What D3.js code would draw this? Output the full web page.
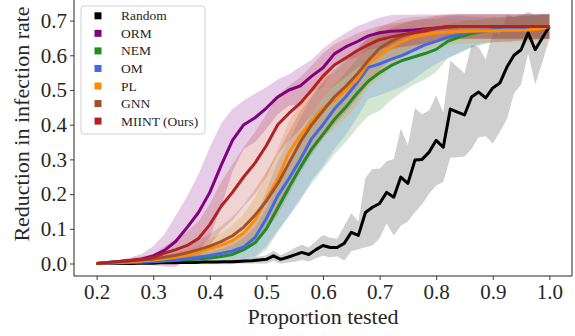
<!DOCTYPE html>
<html>
<head>
<meta charset="utf-8">
<script src="https://cdn.jsdelivr.net/npm/d3@7"></script>
<style>
  body { margin: 0; background: #fff; }
  svg text { font-family: "Liberation Serif", "DejaVu Serif", serif; fill: #262626; }
</style>
</head>
<body>
<svg id="chart"></svg>
<script>
// proportion tested (x grid shared by the learned methods)
const propTested = [0.20, 0.22, 0.24, 0.26, 0.28, 0.30, 0.32, 0.34, 0.36, 0.38,
	0.40, 0.42, 0.44, 0.46, 0.48, 0.50, 0.52, 0.54, 0.56, 0.58,
	0.60, 0.62, 0.64, 0.66, 0.68, 0.70, 0.72, 0.74, 0.76, 0.78,
	0.80, 0.82, 0.84, 0.86, 0.88, 0.90, 0.92, 0.94, 0.96, 0.98, 1.00];

// finer grid for the random baseline
const propRandom = [0.2000, 0.2125, 0.2250, 0.2375, 0.2500, 0.2625, 0.2750, 0.2875, 0.3000, 0.3125,
	0.3250, 0.3375, 0.3500, 0.3625, 0.3750, 0.3875, 0.4000, 0.4125, 0.4250, 0.4375,
	0.4500, 0.4625, 0.4750, 0.4875, 0.5000, 0.5125, 0.5250, 0.5375, 0.5500, 0.5625,
	0.5750, 0.5875, 0.6000, 0.6125, 0.6250, 0.6375, 0.6500, 0.6625, 0.6750, 0.6875,
	0.7000, 0.7125, 0.7250, 0.7375, 0.7500, 0.7625, 0.7750, 0.7875, 0.8000, 0.8125,
	0.8250, 0.8375, 0.8500, 0.8625, 0.8750, 0.8875, 0.9000, 0.9125, 0.9250, 0.9375,
	0.9500, 0.9625, 0.9750, 0.9875, 1.0000];

const randomMean = [0, 0, 0, 0, 0, 0, .001, .001, .001, .002,
	.002, .002, .003, .003, .003, .004, .004, .004, .005, .005,
	.006, .007, .008, .010, .012, .022, .012, .018, .025, .032,
	.026, .040, .052, .046, .046, .058, .090, .081, .147, .162,
	.173, .205, .191, .249, .231, .298, .300, .321, .355, .335,
	.445, .436, .428, .480, .494, .477, .506, .520, .566, .600,
	.616, .665, .616, .650, .683];
const randomSd = [0, 0, 0, 0, 0, 0, .001, .001, .001, .002,
	.002, .002, .003, .003, .003, .004, .004, .004, .005, .005,
	.006, .007, .008, .010, .012, .015, .012, .015, .020, .022,
	.020, .025, .030, .028, .025, .050, .055, .040, .100, .110,
	.100, .090, .110, .140, .110, .150, .130, .120, .130, .100,
	.140, .130, .120, .150, .130, .110, .160, .140, .150, .110,
	.100, .060, .100, .070, .035];

const ormMean = [0, .003, .006, .009, .013, .022, .038, .064, .104, .147,
	.205, .283, .355, .400, .420, .448, .480, .500, .512, .540,
	.564, .604, .624, .639, .656, .665, .669, .671, .673, .676,
	.679, .682, .683, .683, .683, .683, .683, .683, .683, .683, .683];
const ormSd = [0, .002, .004, .008, .015, .028, .047, .075, .090, .110,
	.130, .120, .090, .070, .070, .060, .050, .045, .055, .047,
	.055, .040, .040, .045, .040, .043, .047, .046, .044, .042,
	.038, .036, .035, .035, .035, .035, .035, .035, .035, .035, .035];

const nemMean = [0, .001, .002, .003, .004, .005, .007, .009, .011, .013,
	.016, .020, .026, .040, .060, .100, .160, .220, .277, .330,
	.372, .415, .450, .490, .525, .550, .570, .585, .595, .605,
	.617, .640, .652, .662, .668, .673, .675, .677, .679, .681, .683];
const nemSd = [0, .002, .003, .004, .005, .006, .008, .010, .012, .015,
	.018, .022, .028, .035, .045, .060, .070, .080, .090, .100,
	.100, .100, .100, .100, .100, .110, .100, .090, .080, .075,
	.065, .050, .045, .040, .035, .035, .035, .035, .035, .035, .035];

const omMean = [0, .001, .002, .003, .004, .006, .008, .011, .014, .018,
	.023, .029, .036, .048, .075, .130, .195, .245, .300, .360,
	.400, .445, .480, .520, .565, .575, .588, .600, .615, .630,
	.640, .652, .660, .666, .670, .673, .674, .676, .678, .680, .683];
const omSd = [0, .001, .002, .003, .004, .005, .006, .008, .010, .012,
	.015, .018, .025, .035, .055, .080, .100, .110, .120, .120,
	.120, .115, .110, .100, .090, .090, .090, .090, .085, .075,
	.065, .060, .055, .045, .040, .035, .035, .035, .035, .035, .035];

const plMean = [0, .002, .003, .005, .007, .010, .014, .018, .024, .032,
	.042, .052, .066, .088, .125, .185, .245, .320, .370, .410,
	.448, .470, .500, .530, .578, .600, .624, .640, .653, .659,
	.665, .667, .668, .669, .670, .671, .672, .672, .673, .676, .683];
const plSd = [0, .001, .002, .003, .005, .007, .010, .013, .017, .022,
	.028, .035, .045, .055, .065, .075, .085, .090, .090, .090,
	.085, .080, .080, .075, .070, .065, .060, .050, .045, .042,
	.040, .038, .036, .035, .035, .035, .035, .035, .035, .035, .035];

const gnnMean = [0, .003, .005, .007, .010, .013, .018, .024, .031, .040,
	.050, .063, .080, .105, .140, .180, .230, .290, .350, .400,
	.440, .480, .510, .545, .585, .620, .640, .655, .665, .672,
	.677, .680, .683, .683, .683, .683, .683, .683, .683, .683, .683];
const gnnSd = [0, .002, .003, .005, .007, .010, .013, .017, .022, .028,
	.035, .045, .055, .065, .075, .085, .090, .090, .090, .085,
	.080, .080, .075, .070, .065, .060, .055, .050, .045, .040,
	.038, .036, .035, .035, .035, .035, .035, .035, .035, .035, .035];

const miintMean = [0, .003, .006, .009, .012, .017, .030, .040, .052, .072,
	.112, .165, .205, .250, .290, .340, .400, .433, .462, .500,
	.540, .572, .592, .613, .630, .645, .653, .659, .665, .670,
	.678, .682, .683, .683, .683, .683, .683, .683, .683, .683, .683];
const miintSd = [0, .002, .004, .006, .008, .010, .020, .030, .040, .050,
	.060, .070, .080, .085, .090, .090, .085, .080, .075, .070,
	.065, .060, .055, .050, .045, .040, .037, .036, .036, .035,
	.035, .035, .035, .035, .035, .035, .035, .035, .035, .035, .035];

const seriesNames = ['Random', 'ORM', 'NEM', 'OM', 'PL', 'GNN', 'MIINT (Ours)'];
const seriesColors = ['#000000', '#800080', '#228b22', '#4169e1', '#ff8c00', '#a0522d', '#b22222'];

const xTicks = [0.2, 0.3, 0.4, 0.5, 0.6, 0.7, 0.8, 0.9, 1.0];
const yTicks = [0.0, 0.1, 0.2, 0.3, 0.4, 0.5, 0.6, 0.7];

const series = [
	{ x: propRandom, mean: randomMean, sd: randomSd },
	{ x: propTested, mean: ormMean, sd: ormSd },
	{ x: propTested, mean: nemMean, sd: nemSd },
	{ x: propTested, mean: omMean, sd: omSd },
	{ x: propTested, mean: plMean, sd: plSd },
	{ x: propTested, mean: gnnMean, sd: gnnSd },
	{ x: propTested, mean: miintMean, sd: miintSd }
].map( (s, k) => ({
	name: seriesNames[k],
	color: seriesColors[k],
	points: s.x.map( (x, i) => ({ x: x, m: s.mean[i], sd: s.sd[i] }) )
}) ) ;

const geom = {
	width: 575,
	height: 336,
	margins: { left: 74, right: 3, top: -28, bottom: 60 }
} ;

const scales = {
	x: d3.scaleLinear()
		.domain( [0.16, 1.04] )
		.range( [geom.margins.left, geom.width - geom.margins.right] ),
	y: d3.scaleLinear()
		.domain( [-0.036, 0.84] )
		.range( [geom.height - geom.margins.bottom, geom.margins.top] )
} ;

const svg = d3.select( '#chart' )
	.attr( 'width', geom.width )
	.attr( 'height', geom.height ) ;

const plotBottom = geom.height - geom.margins.bottom ;
const plotRight = geom.width - geom.margins.right ;

// bands first, then the mean lines on top
const area = d3.area()
	.x( d => scales.x(d.x) )
	.y0( d => scales.y(d.m - d.sd) )
	.y1( d => scales.y(d.m + d.sd) ) ;

const line = d3.line()
	.x( d => scales.x(d.x) )
	.y( d => scales.y(d.m) ) ;

svg.append( 'g' )
	.selectAll( 'path' )
	.data( series )
	.enter()
	.append( 'path' )
	.attr( 'd', s => area(s.points) )
	.attr( 'fill', s => s.color )
	.attr( 'fill-opacity', s => s.name == 'Random' ? 0.19 : 0.2 ) ;

svg.append( 'g' )
	.selectAll( 'path' )
	.data( series )
	.enter()
	.append( 'path' )
	.attr( 'd', s => line(s.points) )
	.attr( 'fill', 'none' )
	.attr( 'stroke', s => s.color )
	.attr( 'stroke-width', 3 )
	.attr( 'stroke-linejoin', 'round' ) ;

// axes
const xAxis = svg.append( 'g' )
	.attr( 'transform', 'translate(0 ' + plotBottom + ')' )
	.call( d3.axisBottom(scales.x).tickValues(xTicks).tickFormat(d3.format('.1f')).tickSize(4).tickPadding(4) ) ;

const yAxis = svg.append( 'g' )
	.attr( 'transform', 'translate(' + geom.margins.left + ' 0)' )
	.call( d3.axisLeft(scales.y).tickValues(yTicks).tickFormat(d3.format('.1f')).tickSize(4).tickPadding(3) ) ;

[xAxis, yAxis].forEach( ax => {
	ax.select( '.domain' ).remove() ;
	ax.selectAll( 'line' ).attr( 'stroke', '#262626' ).attr( 'stroke-width', 0.9 ) ;
	ax.selectAll( 'text' )
		.attr( 'fill', '#262626' )
		.style( 'font-size', '21px' )
		.style( 'font-family', '"Liberation Serif", serif' ) ;
} ) ;

// spines (the top one is cut off by the picture)
svg.append( 'path' )
	.attr( 'd', 'M' + geom.margins.left + ',0V' + plotBottom + 'H' + plotRight + 'V0' )
	.attr( 'fill', 'none' )
	.attr( 'stroke', '#262626' )
	.attr( 'stroke-width', 1 ) ;

svg.append( 'text' )
	.attr( 'x', (geom.margins.left + plotRight) / 2 )
	.attr( 'y', 324 )
	.attr( 'text-anchor', 'middle' )
	.style( 'font-size', '22px' )
	.text( 'Proportion tested' ) ;

svg.append( 'text' )
	.attr( 'transform', 'translate(29 124) rotate(-90)' )
	.attr( 'text-anchor', 'middle' )
	.style( 'font-size', '22px' )
	.text( 'Reduction in infection rate' ) ;

// legend
const legend = svg.append( 'g' ).attr( 'transform', 'translate(81 6)' ) ;

legend.append( 'rect' )
	.attr( 'width', 124 )
	.attr( 'height', 128 )
	.attr( 'rx', 3 )
	.attr( 'fill', '#fff' )
	.attr( 'fill-opacity', 0.8 )
	.attr( 'stroke', '#d0d0d0' )
	.attr( 'stroke-width', 1 ) ;

const entries = legend.selectAll( 'g.entry' )
	.data( series )
	.enter()
	.append( 'g' )
	.attr( 'class', 'entry' )
	.attr( 'transform', (s, i) => 'translate(0 ' + (9.8 + i * 17.55) + ')' ) ;

entries.append( 'rect' )
	.attr( 'x', 13.5 )
	.attr( 'y', -3.5 )
	.attr( 'width', 7 )
	.attr( 'height', 7 )
	.attr( 'fill', s => s.color ) ;

entries.append( 'text' )
	.attr( 'x', 40 )
	.attr( 'y', 4.5 )
	.style( 'font-size', '13.5px' )
	.text( s => s.name ) ;
</script>
</body>
</html>
